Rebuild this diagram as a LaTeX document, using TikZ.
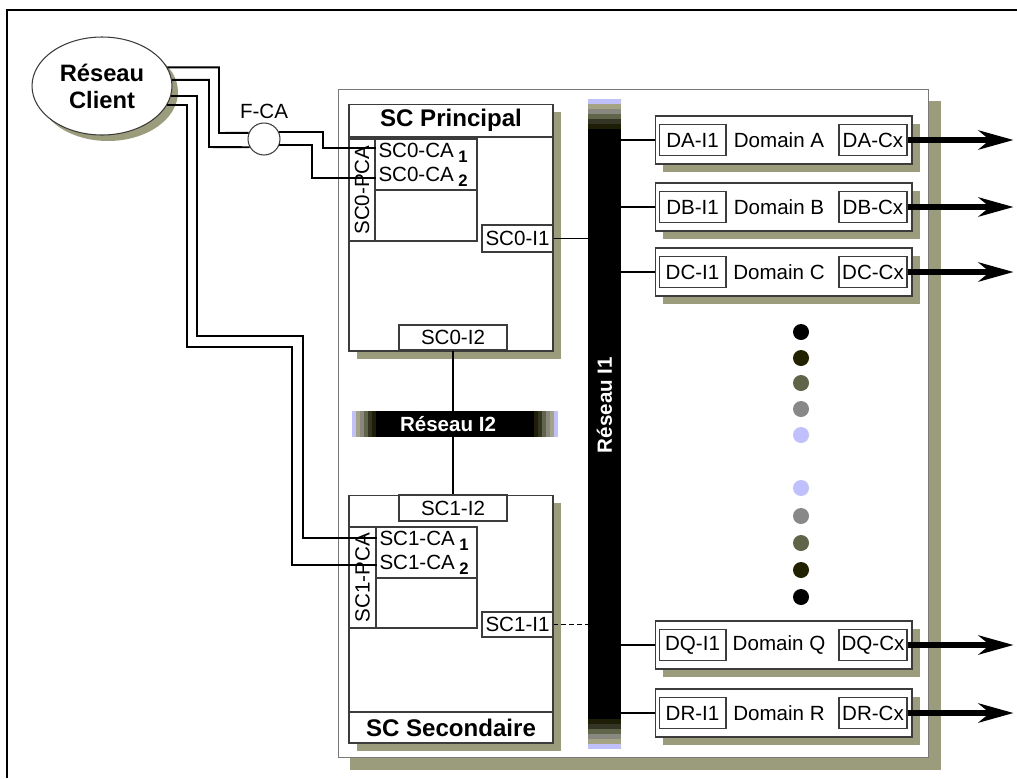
\documentclass[tikz,border=0pt]{standalone}
\usepackage{fontspec}
\setmainfont{Liberation Sans}
\usetikzlibrary{arrows.meta, shapes.geometric, shadows, calc}

\definecolor{shadowc}{RGB}{154,156,124}
\definecolor{boxline}{RGB}{60,60,60}
\definecolor{framegray}{RGB}{120,120,120}
\definecolor{bandA}{RGB}{192,192,255}
\definecolor{bandB}{RGB}{164,164,132}
\definecolor{bandC}{RGB}{136,136,128}
\definecolor{bandD}{RGB}{96,100,72}
\definecolor{bandE}{RGB}{52,52,36}
\definecolor{bandF}{RGB}{30,30,6}
\definecolor{dotB}{RGB}{34,34,0}
\definecolor{dotD}{RGB}{136,136,136}

\newcommand\fnorm{\fontsize{11.7}{13.6}\selectfont}
\newcommand\fbig{\fontsize{13.7}{15.3}\selectfont\bfseries}
\newcommand\fbar{\fontsize{11.7}{13.6}\selectfont\bfseries}
\newcommand\caidx[1]{\kern2.5pt\raisebox{-2.8pt}{\fontsize{9.5}{10}\selectfont\bfseries #1}}

\begin{document}
\begin{tikzpicture}[
    x=0.02cm, y=-0.02cm,
    lbl/.style={font=\fnorm},
    ttl/.style={font=\fbig},
    box/.style={draw=boxline, line width=0.6pt, fill=white, inner sep=0pt},
    shad/.style={drop shadow={shadow xshift=#1, shadow yshift=-#1,
                              fill=shadowc, opacity=1}},
    shad/.default=0.16cm,
    inbox/.style={box, lbl, minimum width=1.34cm, minimum height=0.62cm},
    dombox/.style={box, shad, minimum width=5.14cm, minimum height=0.96cm},
    bar/.style={fill=black, inner sep=0pt},
    barlbl/.style={font=\fbar, text=white},
    link/.style={line width=0.9pt, black},
    cable/.style={line width=1.1pt, black},
    bigarrow/.style={line width=3pt, -{Stealth[length=20pt, width=11pt, inset=6.5pt]}}
  ]
  \useasboundingbox (0,0) rectangle (1017,778);

  % outer frame (cropped)
  \draw[line width=0.85pt] (1017,10) -- (7,10) -- (7,778);

  % container
  \node[box, draw=framegray, shad=0.24cm, minimum width=11.82cm,
        minimum height=13.38cm] (frame) at (633.5,423.5) {};

  % Reseau client and F-CA
  \node[ellipse, draw=boxline, line width=0.6pt, fill=white, shad=0.12cm,
        minimum width=2.8cm, minimum height=1.96cm, inner sep=0pt,
        align=center, font=\fontsize{13.5}{15.3}\selectfont\bfseries]
        (rc) at (102,86) {Réseau\\Client};
  \node[circle, draw=boxline, line width=0.6pt, fill=white, minimum size=0.64cm,
        inner sep=0pt, label={[lbl, label distance=-1.5pt]above:F-CA}]
        (fca) at (264,139) {};

  % SC Principal
  \node[box, shad, minimum width=4.08cm, minimum height=4.94cm] (sc0) at (451,227.5) {};
  \node[box, ttl, anchor=north, minimum width=4.08cm, minimum height=0.66cm]
        (sc0title) at (sc0.north) {SC Principal};
  \node[box, lbl, rotate=90, minimum width=2.04cm, minimum height=0.52cm]
        (sc0pca) at (362,190) {SC0-PCA};
  \node[box, lbl, align=left, text width=1.9cm, inner xsep=2pt, minimum height=1.02cm]
        (sc0ca) at (426,164.5) {SC0-CA\caidx{1}\\SC0-CA\caidx{2}};
  \node[box, minimum width=2.04cm, minimum height=1.02cm] (sc0free) at (426,215.5) {};
  \node[box, lbl, minimum width=1.42cm, minimum height=0.54cm] (sc0ione) at (517.5,238.5) {SC0-I1};
  \node[box, lbl, minimum width=2.16cm, minimum height=0.5cm] (sc0itwo) at (453,337.5) {SC0-I2};

  % SC Secondaire
  \node[box, shad, minimum width=4.08cm, minimum height=4.96cm] (sc1) at (451,619) {};
  \node[box, ttl, anchor=south, minimum width=4.08cm, minimum height=0.62cm]
        (sc1title) at (sc1.south) {SC Secondaire};
  \node[box, lbl, minimum width=2.16cm, minimum height=0.52cm] (sc1itwo) at (453,508) {SC1-I2};
  \node[box, lbl, rotate=90, minimum width=2.02cm, minimum height=0.54cm]
        (sc1pca) at (362.5,577.5) {SC1-PCA};
  \node[box, lbl, align=left, text width=1.88cm, inner xsep=2pt, minimum height=1.02cm]
        (sc1ca) at (426.5,552.5) {SC1-CA\caidx{1}\\SC1-CA\caidx{2}};
  \node[box, minimum width=2.02cm, minimum height=1cm] (sc1free) at (426.5,603) {};
  \node[box, lbl, minimum width=1.42cm, minimum height=0.5cm] (sc1ione) at (517.5,624.5) {SC1-I1};

  % Reseau I1
  \node[bar, minimum width=0.66cm, minimum height=13cm] (rone) at (604.5,424) {};
  \foreach \c [count=\k from 0] in {bandA,bandB,bandC,bandD,bandE,bandF} {
    \fill[\c] ($(rone.north west)+(0,\k*5)$) rectangle ++(33,5);
    \fill[\c] ($(rone.south west)+(0,-\k*5)$) rectangle ++(33,-5);
  }
  \node[barlbl, rotate=90] (ronelbl) at (604.5,405) {Réseau I1};

  % Reseau I2
  \node[bar, minimum width=4.12cm, minimum height=0.52cm] (rtwo) at (455,424) {};
  \foreach \c [count=\k from 0] in {bandA,bandB,bandC,bandD,bandE,bandF} {
    \fill[\c] ($(rtwo.north west)+(\k*4,0)$) rectangle ++(4,26);
    \fill[\c] ($(rtwo.north east)+(-\k*4,0)$) rectangle ++(-4,26);
  }
  \node[barlbl] (rtwolbl) at (448,424) {Réseau I2};

  % links to the networks
  \draw[link] (sc0ione.east) -- (sc0ione.east -| rone.west);
  \draw[link, dash pattern=on 2.8pt off 1.7pt] (sc1ione.east) -- (sc1ione.east -| rone.west);
  \draw[link] (sc0itwo.south) -- (sc0itwo.south |- rtwo.north);
  \draw[link] (sc1itwo.north) -- (sc1itwo.north |- rtwo.south);

  % domains
  \foreach \n/\y in {A/140,B/207,C/272,Q/645,R/713} {
    \node[dombox] (d\n) at (783.5,\y) {};
    \node[inbox, anchor=west] (i\n) at ([xshift=0.08cm]d\n.west) {D\n-I1};
    \node[inbox, minimum width=1.36cm, anchor=east] (cx\n) at ([xshift=-0.1cm]d\n.east) {D\n-Cx};
    \node[lbl] (t\n) at (779,\y) {Domain \n};
    \draw[link] (rone.east |- d\n.west) -- (d\n.west);
    \draw[bigarrow] (cx\n.east) -- ++(106,0);
  }

  % dots
  \foreach \c/\y in {black/332,dotB/358,bandD/383,dotD/409,bandA/435,
                     bandA/488,dotD/516,bandD/543,dotB/570,black/597} {
    \fill[\c] (801,\y) circle (0.16cm);
  }

  % cables
  \draw[cable] (rc.16) -| (219,133) -- (fca.158);
  \draw[cable] (rc.5) -| (209,147) -- (fca.210);
  \draw[cable] (fca.26) -| (323,148) -- (323,148 -| sc0pca.south);
  \draw[cable] (fca.-22) -| (312,178) -- (312,178 -| sc0pca.south);
  \draw[cable] (rc.-8) -| (197,336) -| (303,538) -- (303,538 -| sc1pca.south);
  \draw[cable] (rc.-16) -| (187,347) -| (292,565) -- (292,565 -| sc1pca.south);
\end{tikzpicture}
\end{document}
